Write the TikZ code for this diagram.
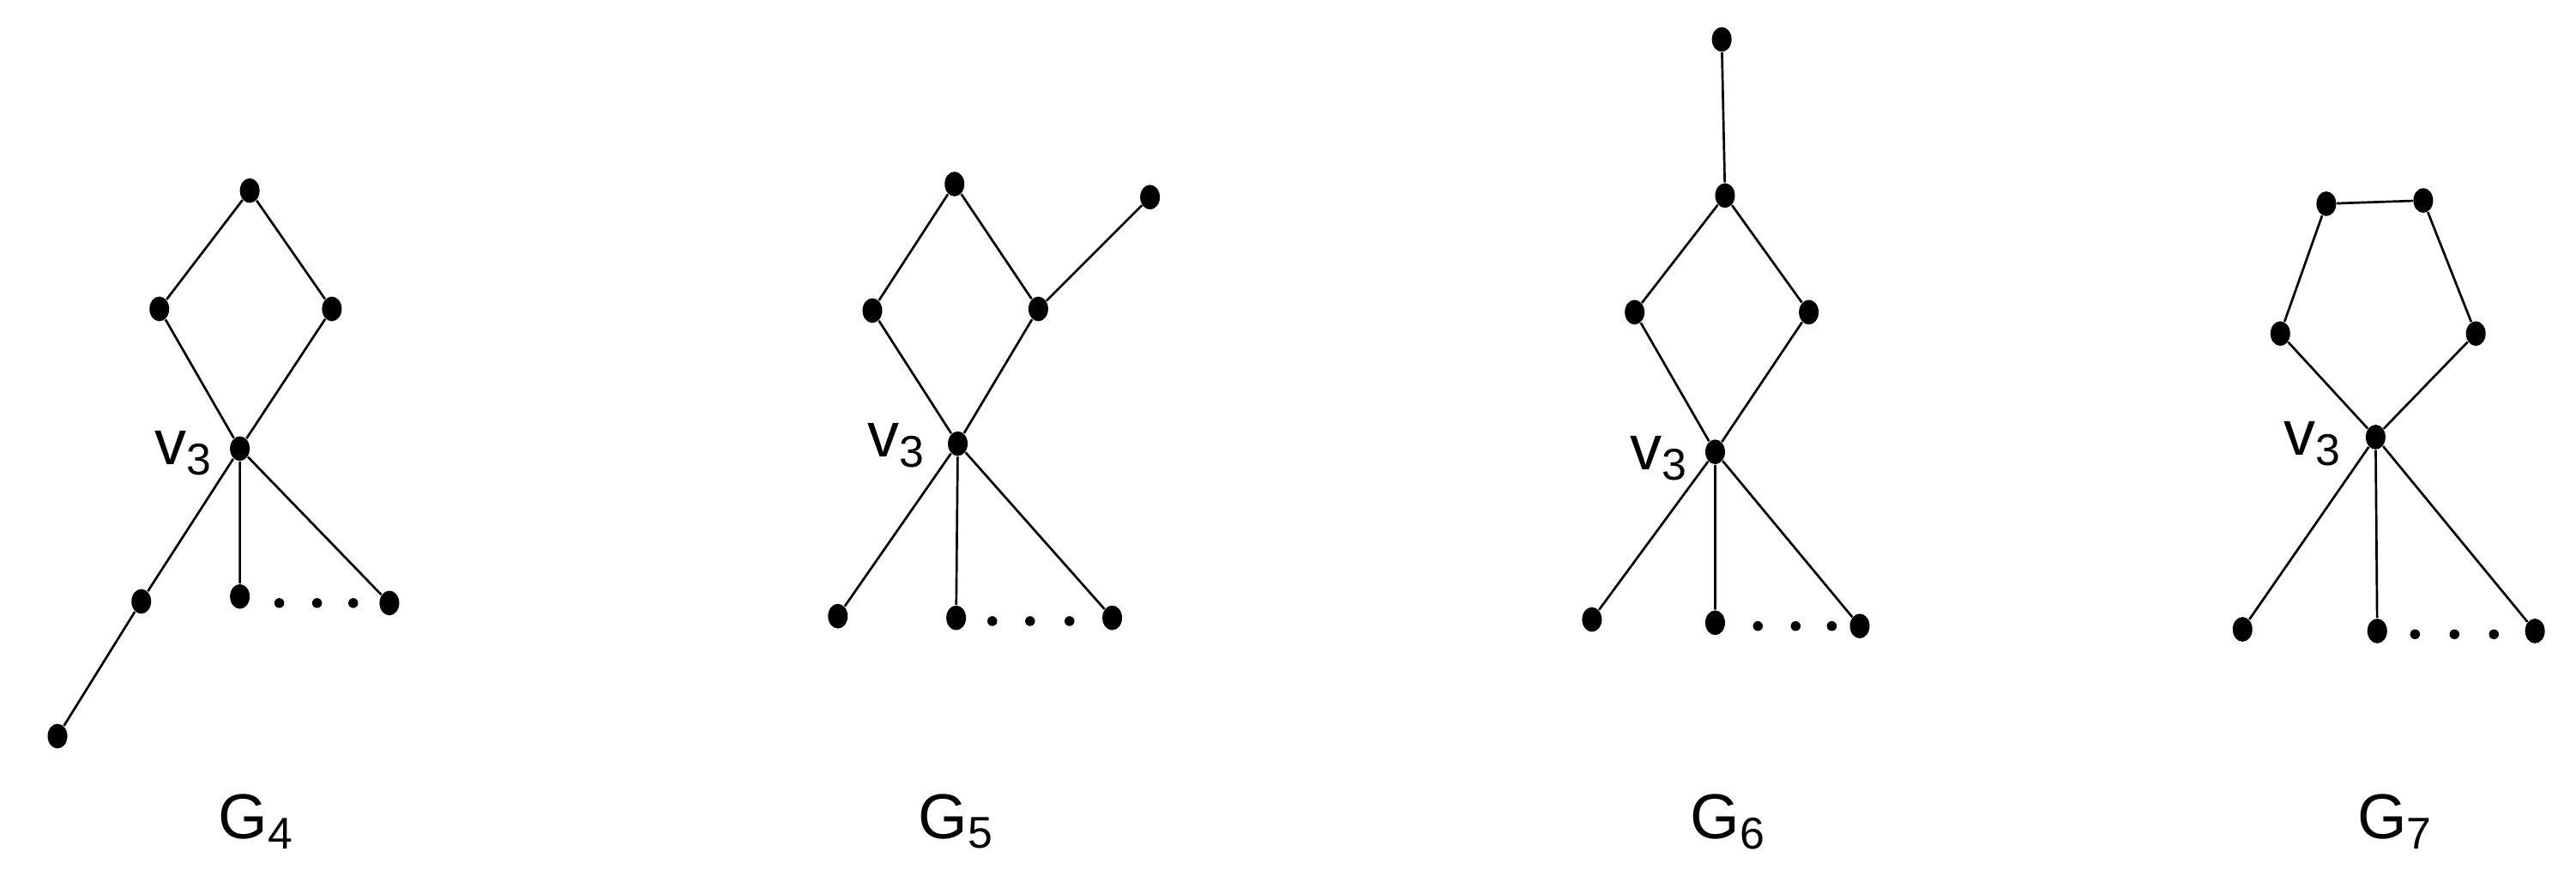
\documentclass[tikz,border=0pt]{standalone}
\usepackage{fontspec}
\setmainfont{Liberation Sans}
\begin{document}
\begin{tikzpicture}[x=0.02cm,y=-0.02cm,
  vtx/.style={circle,fill=black,inner sep=0pt,minimum size=0.24cm,yscale=1.25},
  sdot/.style={circle,fill=black,inner sep=0pt,minimum size=0.12cm},
  lab/.style={font=\fontsize{22}{26}\selectfont},
  edge/.style={line width=0.8pt}]
\useasboundingbox (0,0) rectangle (1568,540);
% G4
\foreach \n/\x/\y in {a1/152/116,a2/97/188,a3/202/188,a4/146/273,a5/86/366,a6/35/448,a7/146/363,a8/237/367}
  \node[vtx] (\n) at (\x,\y) {};
\draw[edge] (a1)--(a2)--(a4)--(a3)--(a1) (a4)--(a5)--(a6) (a4)--(a7) (a4)--(a8);
\foreach \x [count=\i] in {170,193,215} \node[sdot] (ad\i) at (\x,367) {};
\node[lab] (av) at (112,276) {v$_{\mathrm{3}}$};
\node[lab] (ag) at (156,500) {G$_{\mathrm{4}}$};
% G5
\foreach \n/\x/\y in {b1/581/112,b2/531/189,b3/632/188,b9/700/120,b4/583/270,b5/510/375,b7/582/376,b8/677/376}
  \node[vtx] (\n) at (\x,\y) {};
\draw[edge] (b1)--(b2)--(b4)--(b3)--(b1) (b3)--(b9) (b4)--(b5) (b4)--(b7) (b4)--(b8);
\foreach \x [count=\i] in {604,627,651} \node[sdot] (bd\i) at (\x,378) {};
\node[lab] (bv) at (546,271) {v$_{\mathrm{3}}$};
\node[lab] (bg) at (582,500) {G$_{\mathrm{5}}$};
% G6
\foreach \n/\x/\y in {c0/1048/24,c1/1050/119,c2/995/190,c3/1101/190,c4/1044/275,c5/969/377,c7/1044/379,c8/1132/381}
  \node[vtx] (\n) at (\x,\y) {};
\draw[edge] (c0)--(c1) (c1)--(c2)--(c4)--(c3)--(c1) (c4)--(c5) (c4)--(c7) (c4)--(c8);
\foreach \x [count=\i] in {1070,1093,1115} \node[sdot] (cd\i) at (\x,381) {};
\node[lab] (cv) at (1010,279) {v$_{\mathrm{3}}$};
\node[lab] (cg) at (1052,500) {G$_{\mathrm{6}}$};
% G7
\foreach \n/\x/\y in {d1/1416/124,d0/1475/122,d2/1388/203,d3/1507/203,d4/1446/266,d5/1365/383,d7/1447/384,d8/1543/384}
  \node[vtx] (\n) at (\x,\y) {};
\draw[edge] (d1)--(d0)--(d3)--(d4)--(d2)--(d1) (d4)--(d5) (d4)--(d7) (d4)--(d8);
\foreach \x [count=\i] in {1470,1494,1518} \node[sdot] (dd\i) at (\x,386) {};
\node[lab] (dv) at (1408,270) {v$_{\mathrm{3}}$};
\node[lab] (dg) at (1458,500) {G$_{\mathrm{7}}$};
\end{tikzpicture}
\end{document}
